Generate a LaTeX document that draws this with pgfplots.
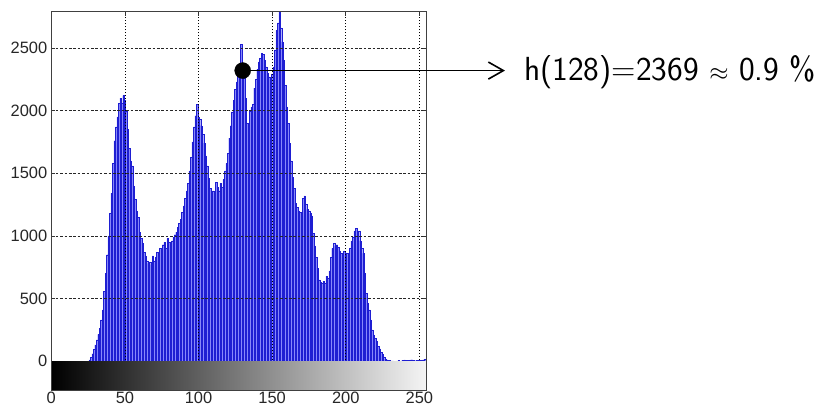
\documentclass[border=0pt]{standalone}
\usepackage{fontspec}
\usepackage{pgfplots}
\usepackage{pgfplotstable}
\pgfplotsset{compat=1.18}
\usetikzlibrary{arrows.meta}
\newfontfamily\ticksfont{Liberation Sans}
\definecolor{barfill}{RGB}{135,135,250}
\definecolor{baredge}{RGB}{30,30,210}
\pgfplotstableread{
x y
0 0
1 0
2 0
3 0
4 0
5 0
6 0
7 0
8 0
9 0
10 0
11 0
12 0
13 0
14 0
15 0
16 0
17 0
18 0
19 0
20 0
21 0
22 0
23 0
24 0
25 0
26 10
27 30
28 60
29 95
30 130
31 170
32 215
33 260
34 330
35 410
36 560
37 700
38 850
39 1000
40 1180
41 1340
42 1580
43 1760
44 1870
45 1950
46 2060
47 2100
48 2060
49 2120
50 2080
51 2000
52 1850
53 1700
54 1600
55 1560
56 1400
57 1290
58 1200
59 1150
60 1030
61 980
62 940
63 870
64 840
65 800
66 780
67 790
68 770
69 840
70 800
71 830
72 870
73 860
74 900
75 890
76 930
77 950
78 900
79 980
80 950
81 930
82 960
83 990
84 1010
85 1030
86 1070
87 1100
88 1130
89 1190
90 1240
91 1300
92 1360
93 1420
94 1520
95 1630
96 1750
97 1870
98 1960
99 2050
100 1950
101 1930
102 1880
103 1810
104 1740
105 1640
106 1560
107 1460
108 1380
109 1350
110 1360
111 1340
112 1430
113 1390
114 1360
115 1420
116 1390
117 1450
118 1520
119 1580
120 1660
121 1780
122 1880
123 1990
124 2080
125 2170
126 2230
127 2290
128 2369
129 2530
130 2270
131 2260
132 2100
133 1900
134 1790
135 2000
136 2030
137 2050
138 2180
139 2250
140 2330
141 2390
142 2420
143 2460
144 2450
145 2400
146 2350
147 2300
148 2270
149 2250
150 2290
151 2350
152 2480
153 2640
154 2700
155 2790
156 2660
157 2550
158 2400
159 2200
160 2030
161 1900
162 1740
163 1600
164 1470
165 1380
166 1260
167 1230
168 1200
169 1190
170 1170
171 1300
172 1320
173 1250
174 1210
175 1200
176 1180
177 1160
178 1020
179 920
180 830
181 740
182 650
183 630
184 620
185 640
186 620
187 680
188 660
189 720
190 830
191 900
192 940
193 920
194 930
195 910
196 880
197 860
198 830
199 880
200 850
201 860
202 850
203 900
204 960
205 990
206 1040
207 1060
208 1030
209 1040
210 960
211 900
212 860
213 700
214 540
215 460
216 410
217 330
218 250
219 210
220 180
221 160
222 120
223 100
224 70
225 55
226 35
227 20
228 12
229 8
230 5
231 3
232 2
233 0
234 0
235 3
236 5
237 0
238 4
239 8
240 10
241 6
242 4
243 8
244 10
245 12
246 6
247 4
248 9
249 7
250 8
251 5
252 10
253 12
254 15
255 20
}\histdata
\begin{document}
\begin{tikzpicture}
\path[use as bounding box] (0,0) rectangle (828bp,407bp);
\begin{axis}[
  at={(51.3bp,17bp)}, anchor=south west,
  scale only axis, width=375.4bp, height=378.3bp,
  xmin=0, xmax=255, ymin=-230, ymax=2790,
  enlargelimits=false,
  xtick={0,50,...,250}, ytick={0,500,...,2500},
  grid=major,
  major x grid style={black, line width=0.6bp, dash pattern=on 1.3bp off 1.7bp},
  major y grid style={black!85, line width=0.6bp, dash pattern=on 2.6bp off 1.8bp},
  axis on top,
  tick align=inside, major tick length=4bp,
  tick style={black!80, line width=0.5bp},
  axis line style={black!75, line width=0.6bp},
  /pgf/number format/assume math mode=true,
  /pgf/number format/1000 sep={},
  tick label style={font=\ticksfont\fontsize{16.5}{16.5}\selectfont, text=black!85},
  yticklabel style={xshift=-0.5bp},
  xticklabel style={inner sep=0.5bp, yshift=-1bp},
]
\addplot[ybar, bar width=1, bar shift=0pt, fill=barfill, draw=baredge, line width=0.3bp] table[x=x, y=y] {\histdata};
\addplot[only marks, mark=*, mark size=8bp, black] coordinates {(130,2320)};
\coordinate (dot) at (axis cs:130,2320);
\coordinate (g0) at (axis cs:0,-230);
\coordinate (g1) at (axis cs:255,0);
\coordinate (g2) at (axis cs:0,0);
\coordinate (g3) at (axis cs:255,-230);
\end{axis}
\fill[left color=black, right color=black!4] (g0) rectangle (g1);
\draw[black!75, line width=0.6bp] (g2) -- (g0) -- (g3) -- (g1);
\draw[line width=1.8bp, -{Straight Barb[length=15bp, width=17bp, line width=1.6bp]}] (dot) -- (505bp, 0 |- dot);
\node[anchor=west, inner sep=0pt, font=\sffamily\fontsize{33.5}{33.5}\selectfont] at (524bp, 335bp) {h(128)=2369 $\approx$ 0.9 \%};
\end{tikzpicture}
\end{document}
